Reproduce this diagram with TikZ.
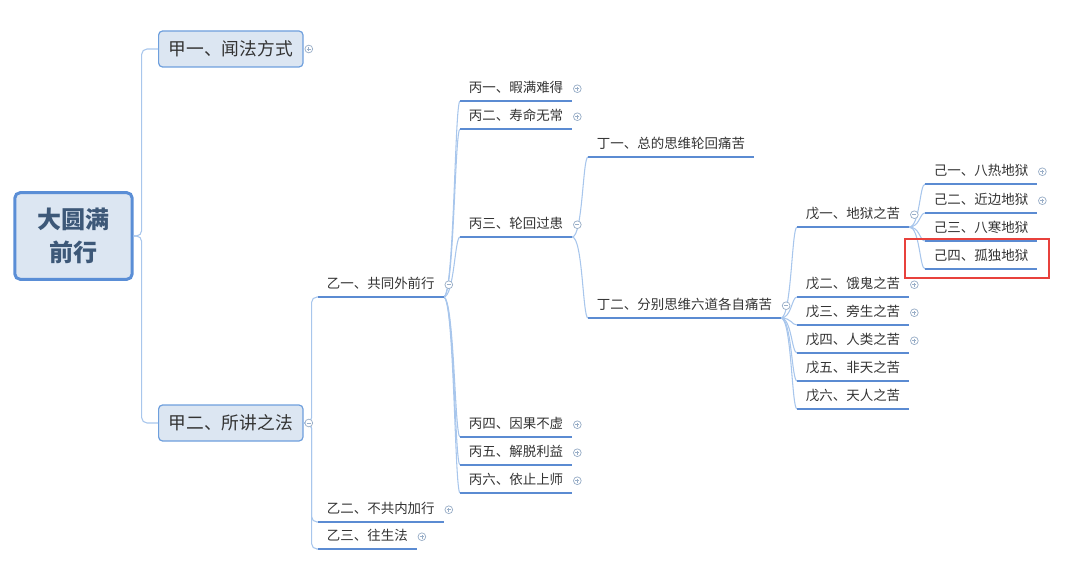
\documentclass[tikz,border=0pt]{standalone}
\usepackage{fontspec}
\newfontfamily\cjk{Noto Sans CJK SC}
\definecolor{boxfill}{HTML}{DCE6F2}
\definecolor{boxline}{HTML}{6E9FDD}
\definecolor{rootline}{HTML}{5A8ED6}
\definecolor{linkline}{HTML}{A8C6EC}
\definecolor{uline}{HTML}{5B8BD2}
\definecolor{rootink}{HTML}{3D5878}
\definecolor{ink}{HTML}{333333}
\definecolor{foldring}{HTML}{9AAFC8}
\definecolor{hilite}{HTML}{E8413C}
\tikzset{
  every node/.style={font=\cjk, text=ink},
  rootbox/.style={draw=rootline, line width=2.25pt, fill=boxfill, rounded corners=4pt,
    minimum width=88pt, minimum height=65pt, align=center, text=rootink,
    font=\cjk\fontsize{18}{24.5}\selectfont\bfseries},
  mainbox/.style={draw=boxline, line width=0.9pt, fill=boxfill, rounded corners=3pt,
    inner xsep=7.6pt, minimum height=27pt, font=\cjk\fontsize{13.3}{16}\selectfont},
  topic/.style={anchor=south west, inner xsep=6.5pt, inner ysep=4pt,
    text height=0.8em, text depth=0.2em, font=\cjk\fontsize{10.1}{12}\selectfont},
  underline/.style={draw=uline, line width=1.3pt},
  link/.style={draw=linkline, line width=0.8pt},
  elbow/.style={link, rounded corners=4pt, to path={-- ++(6pt,0) |- (\tikztotarget)}},
  curvy/.style={link, to path={.. controls ([xshift=8pt]\tikztostart) and ([xshift=-4pt]\tikztotarget) .. (\tikztotarget)}},
  expd/.pic={\draw[foldring, fill=white, line width=0.55pt] (0,0) circle[radius=2.9pt];
    \draw[foldring, line width=0.55pt] (-1.5pt,0) -- (1.5pt,0) (0,-1.5pt) -- (0,1.5pt);},
  clps/.pic={\draw[foldring, fill=white, line width=0.55pt] (0,0) circle[radius=2.9pt];
    \draw[foldring, line width=0.55pt] (-1.5pt,0) -- (1.5pt,0);}
}
\begin{document}
\begin{tikzpicture}[x=0.75pt,y=-0.75pt]
\useasboundingbox (0,0) rectangle (1080,570);

% root and first level
\node[rootbox] (root) at (73.5,236) {大圆满\\前行};
\node[mainbox, anchor=west] (j1) at (158,49) {甲一、闻法方式};
\node[mainbox, anchor=west] (j2) at (158,423) {甲二、所讲之法};

% second level
\node[topic] (y1) at (318,297) {乙一、共同外前行};
\node[topic] (y2) at (318,522) {乙二、不共内加行};
\node[topic] (y3) at (318,549) {乙三、往生法};

% third level
\node[topic] (b1) at (460,101) {丙一、暇满难得};
\node[topic] (b2) at (460,129) {丙二、寿命无常};
\node[topic] (b3) at (460,237) {丙三、轮回过患};
\node[topic] (b4) at (460,437) {丙四、因果不虚};
\node[topic] (b5) at (460,465) {丙五、解脱利益};
\node[topic] (b6) at (460,493) {丙六、依止上师};

\node[topic] (d1) at (588,157) {丁一、总的思维轮回痛苦};
\node[topic] (d2) at (588,318) {丁二、分别思维六道各自痛苦};

\node[topic] (w1) at (797,227) {戊一、地狱之苦};
\node[topic] (w2) at (797,297) {戊二、饿鬼之苦};
\node[topic] (w3) at (797,325) {戊三、旁生之苦};
\node[topic] (w4) at (797,353) {戊四、人类之苦};
\node[topic] (w5) at (797,381) {戊五、非天之苦};
\node[topic] (w6) at (797,409) {戊六、天人之苦};

\node[topic] (s1) at (925,184) {己一、八热地狱};
\node[topic] (s2) at (925,213) {己二、近边地狱};
\node[topic] (s3) at (925,241) {己三、八寒地狱};
\node[topic] (s4) at (925,269) {己四、孤独地狱};

% links
\path (root.east) edge[elbow] (j1.west) edge[elbow] (j2.west);
\foreach \c in {y1,y2,y3}
  \path (j2.east) edge[elbow] (\c.south west);
\foreach \c in {b1,b2,b3,b4,b5,b6}
  \path (y1.south east) edge[curvy] (\c.south west);
\foreach \c in {d1,d2}
  \path (b3.south east) edge[curvy] (\c.south west);
\foreach \c in {w1,w2,w3,w4,w5,w6}
  \path (d2.south east) edge[curvy] (\c.south west);
\foreach \c in {s1,s2,s3,s4}
  \path (w1.south east) edge[curvy] (\c.south west);

% underlines
\foreach \n in {y1,y2,y3,b1,b2,b3,b4,b5,b6,d1,d2,w1,w2,w3,w4,w5,w6,s1,s2,s3,s4}
  \draw[underline] (\n.south west) -- (\n.south east);

% fold marks
\foreach \n in {j1,y2,y3,b1,b2,b4,b5,b6,w2,w3,w4,s1,s2}
  \pic at ([xshift=3.9pt]\n.east) {expd};
\foreach \n in {j2,y1,b3,d2,w1}
  \pic at ([xshift=3.9pt]\n.east) {clps};

% highlight
\draw[hilite, line width=1.1pt] (905,239) rectangle (1049,278);
\end{tikzpicture}
\end{document}
